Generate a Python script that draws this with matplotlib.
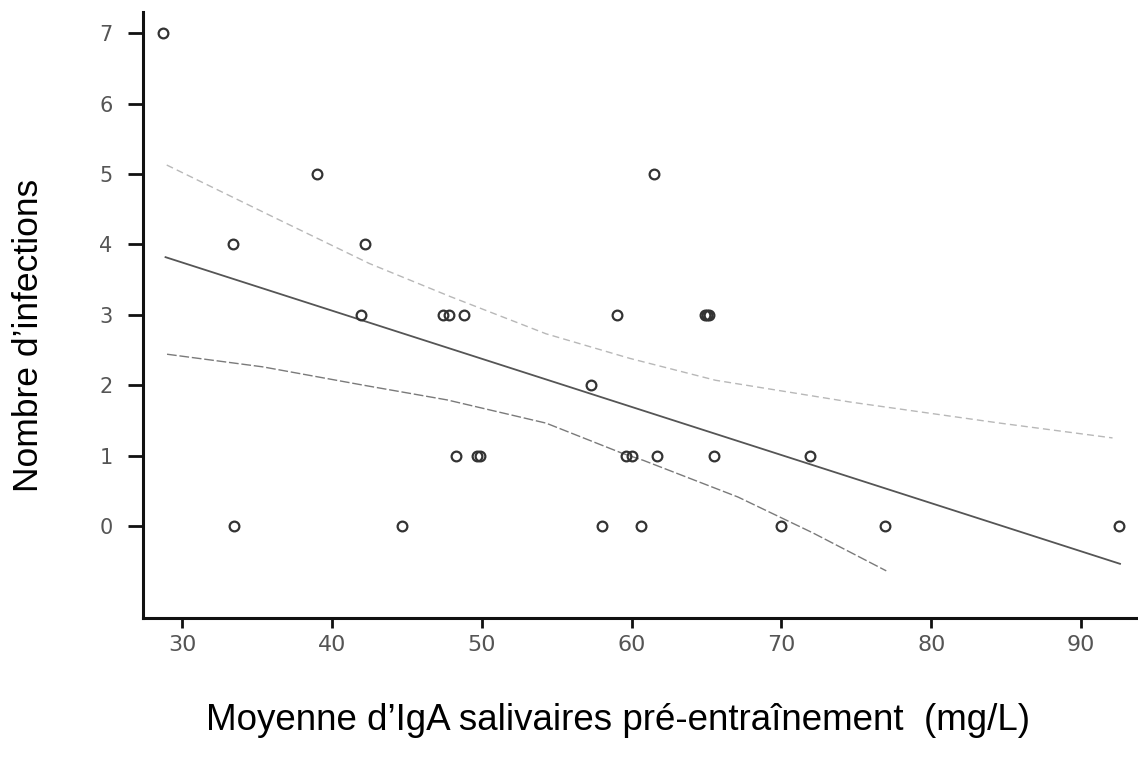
import numpy as np
import matplotlib
matplotlib.use('Agg')
import matplotlib.pyplot as plt

plt.rcParams['font.family'] = ['Liberation Sans', 'DejaVu Sans']

# points (IgA moyenne, nombre d'infections)
iga = [28.7, 39.0, 61.5, 33.4, 42.2, 41.95, 47.4, 47.8, 48.85, 59.0,
       64.9, 65.05, 65.2, 57.3, 48.3, 49.7, 49.9, 59.6, 60.0, 61.7,
       65.5, 71.9, 33.5, 44.7, 58.0, 60.6, 70.0, 76.9, 92.5]
infections = [7, 5, 5, 4, 4, 3, 3, 3, 3, 3,
              3, 3, 3, 2, 1, 1, 1, 1, 1, 1,
              1, 1, 0, 0, 0, 0, 0, 0, 0]

# droite de regression
reg_x = [28.9, 92.6]
reg_y = [3.82, -0.54]

# bornes de l'intervalle de confiance
up_x = [28.98, 36.1, 42.5, 47.9, 54.3, 59.9, 65.6, 74.6, 84.6, 92.1]
up_y = [5.13, 4.39, 3.73, 3.26, 2.73, 2.38, 2.07, 1.76, 1.46, 1.25]
lo_x = [29.0, 35.4, 42.1, 47.7, 54.3, 59.4, 60.8, 67.1, 72.1, 77.0]
lo_y = [2.44, 2.26, 2.0, 1.79, 1.46, 1.03, 0.93, 0.41, -0.10, -0.64]

xticks = [30, 40, 50, 60, 70, 80, 90]
yticks = [0, 1, 2, 3, 4, 5, 6, 7]

fig = plt.figure(figsize=(11.38, 7.59), dpi=100)
ax = fig.add_axes([0.1257, 0.1858, 0.8743, 0.7988])

ax.plot(up_x, up_y, color='#b8b8b8', lw=1.0, ls=(0, (5, 3)))
ax.plot(lo_x, lo_y, color='#7a7a7a', lw=1.0, ls=(0, (7, 2)))
ax.plot(reg_x, reg_y, color='#555555', lw=1.3)
ax.plot(iga, infections, ls='none', marker='o', ms=7, mfc='none',
        mec='#333333', mew=1.6)

ax.set_xlim(27.4, 93.8)
ax.set_ylim(-1.31, 7.31)
ax.set_xticks(xticks)
ax.set_yticks(yticks)
for s in ['top', 'right']:
    ax.spines[s].set_visible(False)
for s in ['left', 'bottom']:
    ax.spines[s].set_linewidth(2.2)
    ax.spines[s].set_color('#111111')
ax.tick_params(axis='x', length=7, width=2, color='#111111', labelsize=16,
               labelcolor='#555555', pad=5)
ax.tick_params(axis='y', length=11, width=2, color='#111111', labelsize=15,
               labelcolor='#555555', pad=11)
for lab in ax.get_xticklabels() + ax.get_yticklabels():
    lab.set_family('DejaVu Sans')

fig.text(29 / 1138, 1 - 335 / 759, 'Nombre d\u2019infections', rotation=90,
         ha='center', va='center', fontsize=25.5)
fig.text(618 / 1138, 1 - 720 / 759,
         'Moyenne d\u2019IgA salivaires pr\u00e9-entra\u00eenement  (mg/L)',
         ha='center', va='center', fontsize=26.5)

fig.savefig('out.png', dpi=100)
